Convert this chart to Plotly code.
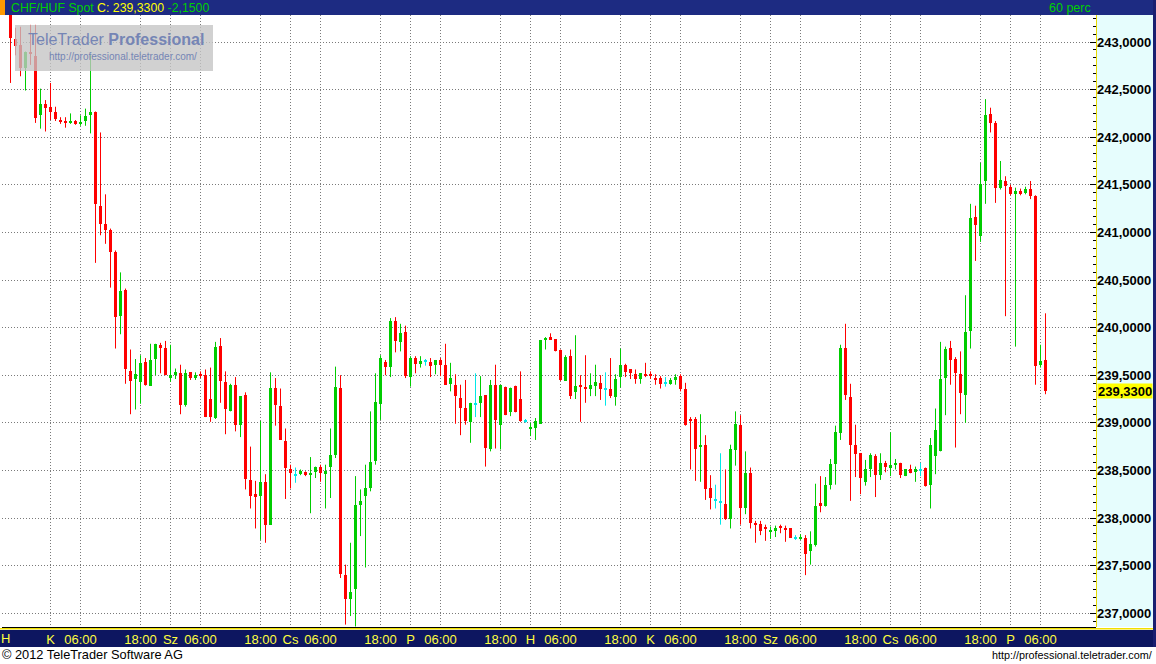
import plotly.graph_objects as go

# ---------------- data ----------------
symbol = "CHF/HUF Spot"
interval_label = "60 perc"
change = -2.15

opens = [243.31, 243.03, 242.97, 242.73, 242.90, 242.85, 242.23, 242.35, 242.32, 242.26,
         242.18, 242.17, 242.16, 242.17, 242.14, 242.17, 242.24, 242.27, 241.28, 241.09,
         241.03, 240.79, 240.12, 240.39, 239.54, 239.46, 239.43, 239.64, 239.39, 239.67,
         239.82, 239.79, 239.48, 239.50, 239.52, 239.19, 239.53, 239.47, 239.51, 239.50,
         239.25, 239.05, 239.81, 239.43, 239.12, 239.40, 238.98, 239.29, 238.40, 238.25,
         238.23, 238.38, 237.93, 239.37, 239.18, 238.81, 238.51, 238.45, 238.47, 238.48,
         238.46, 238.48, 238.54, 238.46, 238.54, 238.66, 239.37, 237.40, 237.15, 237.25,
         238.14, 238.23, 238.31, 238.60, 239.20, 239.64, 239.59, 240.07, 239.85, 239.95,
         239.48, 239.68, 239.62, 239.65, 239.64, 239.61, 239.66, 239.61, 239.41, 239.40,
         239.26, 239.16, 239.01, 239.20, 239.21, 239.29, 238.72, 239.40, 238.98, 239.38,
         239.11, 239.39, 239.25, 239.02, 238.94, 238.95, 238.99, 239.87, 239.90, 239.88,
         239.77, 239.44, 239.70, 239.32, 239.40, 239.38, 239.35, 239.39, 239.42, 239.36,
         239.35, 239.27, 239.48, 239.61, 239.56, 239.51, 239.46, 239.51, 239.51, 239.47,
         239.47, 239.42, 239.41, 239.45, 239.49, 239.35, 239.04, 239.04, 238.75, 238.77,
         238.32, 238.19, 238.17, 238.15, 237.99, 238.71, 238.98, 238.11, 238.47, 237.95,
         237.94, 237.91, 237.86, 237.86, 237.91, 237.90, 237.89, 237.79, 237.79, 237.79,
         237.65, 237.72, 238.16, 238.13, 238.35, 238.57, 238.89, 239.79, 239.27, 238.77,
         238.68, 238.38, 238.52, 238.65, 238.45, 238.58, 238.53, 238.56, 238.58, 238.44,
         238.51, 238.48, 238.51, 238.53, 238.35, 238.65, 238.70, 239.47, 239.79, 239.67,
         239.51, 239.29, 239.96, 241.16, 240.96, 241.54, 242.24, 242.15, 241.47, 241.54,
         241.48, 241.41, 241.43, 241.41, 241.46, 241.38, 239.61, 239.66]
highs = [243.36, 243.15, 243.16, 242.90, 243.18, 243.18, 242.51, 242.39, 242.57, 242.32,
         242.21, 242.21, 242.25, 242.18, 242.23, 242.30, 242.86, 242.27, 242.05, 241.40,
         241.04, 240.81, 240.58, 240.41, 239.77, 239.67, 239.71, 239.68, 239.83, 239.83,
         239.84, 239.86, 239.82, 239.57, 239.61, 239.56, 239.53, 239.53, 239.54, 239.56,
         239.58, 239.85, 239.89, 239.54, 239.41, 239.48, 239.28, 239.32, 238.75, 238.39,
         239.02, 238.46, 239.53, 239.47, 239.36, 238.94, 238.56, 238.53, 238.51, 238.49,
         238.64, 238.54, 238.56, 238.56, 238.94, 239.59, 239.50, 237.51, 237.74, 238.44,
         238.30, 238.56, 239.12, 239.52, 239.71, 239.66, 240.10, 240.11, 240.04, 240.02,
         239.70, 239.70, 239.70, 239.67, 239.68, 239.66, 239.68, 239.83, 239.63, 239.51,
         239.40, 239.45, 239.21, 239.52, 239.49, 239.29, 239.45, 239.61, 239.40, 239.38,
         239.37, 239.39, 239.54, 239.04, 239.00, 239.05, 239.87, 239.90, 239.94, 239.88,
         239.77, 239.71, 239.77, 239.92, 239.50, 239.71, 239.52, 239.61, 239.50, 239.53,
         239.68, 239.51, 239.78, 239.62, 239.56, 239.56, 239.52, 239.63, 239.54, 239.51,
         239.49, 239.48, 239.47, 239.51, 239.51, 239.42, 239.06, 239.06, 239.09, 238.87,
         238.45, 238.35, 238.68, 238.51, 238.77, 239.12, 239.08, 238.70, 238.53, 237.97,
         237.97, 237.93, 237.91, 237.92, 237.93, 237.92, 237.89, 237.82, 237.83, 237.82,
         237.86, 238.36, 238.44, 238.43, 238.62, 238.97, 239.82, 240.04, 239.41, 238.98,
         238.68, 238.61, 238.68, 238.67, 238.68, 238.60, 238.90, 238.62, 238.58, 238.51,
         238.56, 238.54, 238.58, 238.53, 238.84, 239.15, 239.85, 239.80, 239.86, 239.69,
         239.75, 240.34, 241.30, 241.28, 241.73, 242.40, 242.31, 242.17, 241.75, 241.59,
         241.50, 241.47, 241.46, 241.48, 241.54, 241.39, 239.82, 240.15]
lows = [242.57, 242.86, 242.64, 242.49, 242.76, 242.15, 242.09, 242.06, 242.18, 242.17,
        242.14, 242.10, 242.14, 242.13, 242.12, 242.12, 242.04, 240.68, 240.97, 240.88,
        240.42, 239.78, 239.93, 239.41, 239.09, 239.14, 239.20, 239.39, 239.39, 239.50,
        239.52, 239.50, 239.43, 239.46, 239.09, 239.17, 239.45, 239.45, 239.47, 239.06,
        239.01, 239.04, 239.21, 238.88, 239.12, 238.91, 238.85, 238.30, 238.10, 237.89,
        237.77, 237.74, 237.93, 238.97, 238.82, 238.20, 238.31, 238.37, 238.45, 238.44,
        238.05, 238.42, 238.38, 238.10, 238.21, 238.63, 237.37, 236.88, 236.97, 236.86,
        237.81, 237.48, 238.28, 238.56, 239.03, 239.50, 239.48, 239.74, 239.75, 239.47,
        239.38, 239.52, 239.58, 239.60, 239.48, 239.51, 239.49, 239.40, 239.33, 238.99,
        238.87, 238.98, 238.79, 239.06, 239.06, 238.54, 238.70, 238.73, 238.72, 239.08,
        239.07, 239.11, 239.01, 239.00, 238.86, 238.82, 238.99, 239.77, 239.87, 239.75,
        239.44, 239.44, 239.25, 239.25, 239.01, 239.21, 239.28, 239.28, 239.24, 239.18,
        239.26, 239.18, 239.37, 239.48, 239.46, 239.41, 239.41, 239.48, 239.46, 239.40,
        239.36, 239.38, 239.40, 239.40, 239.33, 238.97, 238.51, 238.39, 238.38, 238.19,
        238.09, 238.10, 237.93, 237.98, 237.89, 238.55, 237.93, 238.04, 237.89, 237.74,
        237.82, 237.76, 237.78, 237.80, 237.84, 237.75, 237.79, 237.77, 237.77, 237.40,
        237.51, 237.70, 238.06, 238.12, 238.30, 238.35, 238.82, 239.24, 238.18, 238.43,
        238.25, 238.34, 238.43, 238.22, 238.40, 238.48, 238.44, 238.51, 238.42, 238.44,
        238.47, 238.38, 238.44, 238.33, 238.10, 238.46, 238.70, 239.08, 239.40, 238.74,
        239.09, 239.00, 239.78, 240.70, 240.90, 241.30, 242.05, 241.31, 241.45, 240.12,
        241.39, 239.80, 241.39, 241.40, 241.35, 239.40, 239.58, 239.30]
closes = [243.04, 242.96, 242.73, 242.90, 242.88, 242.20, 242.35, 242.31, 242.27, 242.19,
          242.16, 242.16, 242.17, 242.14, 242.16, 242.22, 242.26, 241.30, 241.09, 241.03,
          240.79, 240.11, 240.38, 239.57, 239.44, 239.51, 239.63, 239.40, 239.66, 239.83,
          239.79, 239.50, 239.50, 239.53, 239.19, 239.52, 239.47, 239.50, 239.50, 239.06,
          239.06, 239.80, 239.44, 239.14, 239.40, 238.98, 239.28, 238.41, 238.23, 238.23,
          238.38, 237.93, 239.37, 239.19, 238.82, 238.53, 238.47, 238.45, 238.49, 238.46,
          238.47, 238.54, 238.47, 238.49, 238.66, 239.38, 237.41, 237.15, 237.22, 238.14,
          238.18, 238.32, 238.59, 239.22, 239.68, 239.59, 240.07, 239.86, 239.94, 239.49,
          239.68, 239.62, 239.65, 239.65, 239.60, 239.66, 239.61, 239.40, 239.47, 239.28,
          239.16, 239.02, 239.21, 239.20, 239.28, 238.74, 239.40, 239.03, 239.40, 239.08,
          239.37, 239.11, 239.02, 239.02, 238.95, 239.02, 239.87, 239.89, 239.88, 239.75,
          239.45, 239.69, 239.28, 239.39, 239.38, 239.35, 239.40, 239.43, 239.35, 239.36,
          239.28, 239.46, 239.61, 239.53, 239.52, 239.46, 239.52, 239.50, 239.50, 239.45,
          239.41, 239.42, 239.45, 239.48, 239.36, 238.98, 239.02, 238.73, 238.77, 238.30,
          238.21, 238.19, 238.17, 237.99, 238.73, 238.99, 238.11, 238.47, 237.95, 237.93,
          237.86, 237.89, 237.87, 237.90, 237.90, 237.88, 237.79, 237.79, 237.80, 237.62,
          237.73, 238.13, 238.13, 238.35, 238.57, 238.90, 239.79, 239.29, 238.77, 238.67,
          238.42, 238.51, 238.66, 238.45, 238.58, 238.54, 238.56, 238.58, 238.45, 238.51,
          238.47, 238.52, 238.51, 238.34, 238.77, 238.92, 239.46, 239.78, 239.66, 239.52,
          239.31, 239.95, 241.15, 241.08, 241.51, 242.23, 242.15, 241.47, 241.55, 241.49,
          241.40, 241.43, 241.41, 241.46, 241.38, 239.60, 239.65, 239.33]

# time axis labels (hourly candles, index 0 = Monday 16:00)
first_label = "H"
first_label_idx = -1
tick_idx = [8, 14, 26, 32, 38, 50, 56, 62, 74, 80, 86, 98, 104, 110, 122,
            128, 134, 146, 152, 158, 170, 176, 182, 194, 200, 206]
tick_text = ["K", "06:00", "18:00", "Sz", "06:00", "18:00", "Cs", "06:00", "18:00",
             "P", "06:00", "18:00", "H", "06:00", "18:00", "K", "06:00", "18:00",
             "Sz", "06:00", "18:00", "Cs", "06:00", "18:00", "P", "06:00"]

price_ticks = [237.0, 237.5, 238.0, 238.5, 239.0, 239.5, 240.0, 240.5,
               241.0, 241.5, 242.0, 242.5, 243.0]
price_labels = ["237,0000", "237,5000", "238,0000", "238,5000", "239,0000",
                "239,5000", "240,0000", "240,5000", "241,0000", "241,5000",
                "242,0000", "242,5000", "243,0000"]
quarter_ticks = [237.25, 237.75, 238.25, 238.75, 239.25, 239.75,
                 240.25, 240.75, 241.25, 241.75, 242.25, 242.75]

# ---------------- styling ----------------
W, H = 1156, 664
FONT = "Liberation Sans, Arial, sans-serif"
UP, DOWN, DOJI = "#00cc00", "#ff0000", "#00e8e8"
GRID = "#7a7a7a"
PL, PR, PT, PB = 2, 1096, 15, 627          # plot area in px
X_RANGE = [-1.7, -1.7 + (PR - PL) / 5.0]   # 5 px per hourly candle
Y_RANGE = [243.0 - (PB - 42) / 95.2, 243.0 + (42 - PT) / 95.2]
BODY_W = 0.6
MIN_BODY = 0.02
DOJI_BODY = 0.012


def py(px):
    return 1 - px / H


def px_x(px):
    return px / W


fig = go.Figure()

groups = {"up": ([], UP), "down": ([], DOWN), "doji": ([], DOJI)}
for i, (o, c) in enumerate(zip(opens, closes)):
    key = "up" if c > o else ("down" if c < o else "doji")
    groups[key][0].append(i)

for key, (idxs, col) in groups.items():
    bases, heights = [], []
    for i in idxs:
        o, c = opens[i], closes[i]
        lo, hi = min(o, c), max(o, c)
        minh = DOJI_BODY if key == "doji" else MIN_BODY
        if hi - lo < minh:
            mid = (hi + lo) / 2
            lo, hi = mid - minh / 2, mid + minh / 2
        bases.append(lo)
        heights.append(hi - lo)
    fig.add_trace(go.Bar(x=idxs, y=heights, base=bases, width=BODY_W,
                         marker=dict(color=col, line=dict(width=0)),
                         showlegend=False, hoverinfo="skip"))
    wx, wy = [], []
    for i in idxs:
        wx += [i, i, None]
        wy += [lows[i], highs[i], None]
    fig.add_trace(go.Scatter(x=wx, y=wy, mode="lines",
                             line=dict(color=col, width=1),
                             showlegend=False, hoverinfo="skip"))

last = closes[-1]
last_txt = f"{last:.4f}".replace(".", ",")
chg_txt = f"{change:.4f}".replace(".", ",")

shapes = [
    # header bar
    dict(type="rect", xref="paper", yref="paper", x0=0, x1=1, y0=py(15), y1=1,
         fillcolor="#1d2b82", line_width=0, layer="below"),
    dict(type="rect", xref="paper", yref="paper", x0=0, x1=px_x(5), y0=py(15), y1=1,
         fillcolor="#ff9900", line_width=0, layer="below"),
    # right price panel
    dict(type="rect", xref="paper", yref="paper", x0=px_x(PR), x1=px_x(1153),
         y0=py(PB), y1=py(PT), fillcolor="#e6fdfd", line_width=0, layer="below"),
    dict(type="line", xref="paper", yref="paper", x0=px_x(PR + 0.5), x1=px_x(PR + 0.5),
         y0=py(PB), y1=py(PT), line=dict(color="#e8d800", width=1), layer="below"),
    dict(type="rect", xref="paper", yref="paper", x0=px_x(1153), x1=1,
         y0=py(647), y1=1, fillcolor="#1a1f70", line_width=0, layer="below"),
    # bottom time bar
    dict(type="rect", xref="paper", yref="paper", x0=0, x1=px_x(1153),
         y0=py(647), y1=py(630), fillcolor="#0d1660", line_width=0, layer="below"),
    dict(type="line", xref="paper", yref="paper", x0=0, x1=px_x(1153),
         y0=py(628.8), y1=py(628.8), line=dict(color="#f0e000", width=1.6), layer="below"),
    # watermark
    dict(type="rect", xref="paper", yref="paper", x0=px_x(15), x1=px_x(213),
         y0=py(71), y1=py(25), fillcolor="rgba(196,196,196,0.78)", line_width=0,
         layer="above"),
]

annotations = [
    dict(xref="paper", yref="paper", x=px_x(9), y=py(7.5), xanchor="left", yanchor="middle",
         showarrow=False,
         text=(f"<span style='color:#00d000'>{symbol}</span> "
               f"<span style='color:#ffff00'>C: {last_txt}</span> "
               f"<span style='color:#00d000'>{chg_txt}</span>"),
         font=dict(family=FONT, size=12.3)),
    dict(xref="paper", yref="paper", x=px_x(1093), y=py(7.5), xanchor="right",
         yanchor="middle", showarrow=False, text=interval_label,
         font=dict(family=FONT, size=12.5, color="#00d000")),
    dict(xref="x", yref="paper", x=first_label_idx, y=py(638.5), xanchor="center",
         yanchor="middle", showarrow=False, text=first_label,
         font=dict(family=FONT, size=13, color="#ffff40")),
    dict(xref="paper", yref="paper", x=0, y=py(654.5), xanchor="left",
         yanchor="middle", showarrow=False, text="© 2012 TeleTrader Software AG",
         font=dict(family=FONT, size=12.8, color="#000000")),
    dict(xref="paper", yref="paper", x=px_x(1154), y=py(655), xanchor="right",
         yanchor="middle", showarrow=False, text="http://professional.teletrader.com/",
         font=dict(family=FONT, size=10.8, color="#000000")),
    # watermark text
    dict(xref="paper", yref="paper", x=px_x(26), y=py(40), xanchor="left",
         yanchor="middle", showarrow=False,
         text="TeleTrader <b>Professional</b>",
         font=dict(family="Liberation Sans Narrow, Liberation Sans, Arial", size=16,
                   color="#7585b5")),
    dict(xref="paper", yref="paper", x=px_x(47), y=py(57), xanchor="left",
         yanchor="middle", showarrow=False,
         text="http://professional.teletrader.com/",
         font=dict(family=FONT, size=10, color="#7585b5")),
    # last price box
    dict(xref="paper", yref="y", x=px_x(PR + 1), y=last, xanchor="left",
         yanchor="middle", showarrow=False, text=f"<b>{last_txt}</b>",
         bgcolor="#ffff00", width=54, height=14, borderpad=0, align="left",
         font=dict(family=FONT, size=13, color="#000000")),
]

fig.update_layout(
    width=W, height=H,
    margin=dict(l=0, r=0, t=0, b=0),
    paper_bgcolor="#ffffff", plot_bgcolor="#ffffff",
    barmode="overlay", bargap=0,
    showlegend=False,
    shapes=shapes, annotations=annotations,
    xaxis=dict(domain=[px_x(PL), px_x(PR)], range=X_RANGE,
               tickmode="array", tickvals=tick_idx, ticktext=tick_text,
               tickfont=dict(family=FONT, size=13, color="#ffff40"),
               ticks="", showgrid=True, gridcolor=GRID, griddash="1px,2px",
               gridwidth=1, showline=True, linecolor="#000000", linewidth=1,
               zeroline=False, fixedrange=True),
    yaxis=dict(domain=[py(PB), py(PT)], range=Y_RANGE, side="right",
               tickmode="array", tickvals=price_ticks,
               ticktext=[f"<b>{t}</b>" for t in price_labels],
               tickfont=dict(family=FONT, size=13, color="#000000"),
               ticks="inside", ticklen=6, tickcolor="#000000", tickwidth=1,
               minor=dict(tickmode="linear", tick0=237.0, dtick=0.5 / 6,
                          ticks="inside", ticklen=3, tickcolor="#000000",
                          showgrid=False),
               showgrid=True, gridcolor=GRID, griddash="1px,2px", gridwidth=1,
               zeroline=False, showline=False, fixedrange=True),
    yaxis2=dict(overlaying="y", range=Y_RANGE, side="left", anchor="x",
                tickmode="array", tickvals=quarter_ticks, showticklabels=False,
                ticks="", showgrid=True, gridcolor="#c0c0c0",
                griddash="3px,12px", gridwidth=1,
                minor=dict(tickmode="linear", tick0=237.0, dtick=0.05,
                           ticks="inside", ticklen=4, tickcolor="#000000",
                           showgrid=False),
                showline=True, linecolor="#000000", linewidth=1,
                zeroline=False, fixedrange=True),
)

fig.write_html("out.html", config={"displayModeBar": False},
               post_script="document.body.style.margin='0';"
                           "document.body.style.overflow='hidden';")
